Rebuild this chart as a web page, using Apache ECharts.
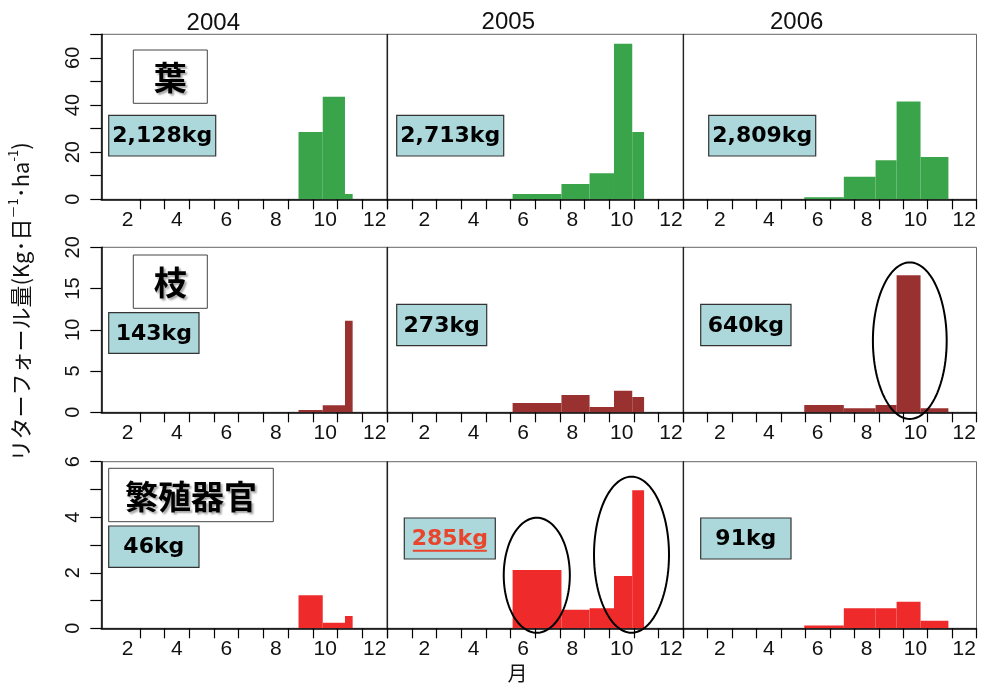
<!DOCTYPE html>
<html>
<head>
<meta charset="utf-8">
<script src="https://cdn.jsdelivr.net/npm/echarts@6/dist/echarts.min.js"></script>
<style>
  html, body { margin: 0; padding: 0; background: #fff; }
  #chart { width: 982px; height: 684px; }
</style>
</head>
<body>
<div id="chart"></div>
<script>
// Collection-period boundaries, in months counted from 1 January of each year
const periods2004 = [8.42, 9.40, 10.30, 10.61];
const periods2005 = [5.08, 7.06, 8.20, 9.19, 9.93, 10.41];
const periods2006 = [4.95, 6.57, 7.87, 8.73, 9.71, 10.85];

// Daily litterfall in each period (kg / day / ha)
const leaf2004 = [28.6, 43.5, 2.3];
const leaf2005 = [2.3, 6.5, 11.1, 66.0, 28.6];
const leaf2006 = [0.85, 9.6, 16.6, 41.5, 17.9];
const branch2004 = [0.28, 0.85, 11.1];
const branch2005 = [1.13, 2.1, 0.64, 2.62, 1.85];
const branch2006 = [0.88, 0.48, 0.88, 16.6, 0.48];
const repro2004 = [1.19, 0.2, 0.44];
const repro2005 = [2.1, 0.67, 0.72, 1.88, 4.97];
const repro2006 = [0.1, 0.72, 0.72, 0.96, 0.27];

const years = ['2004', '2005', '2006'];
const parts = ['葉', '枝', '繁殖器官'];
const annualTotals = [
  ['2,128kg', '2,713kg', '2,809kg'],
  ['143kg', '273kg', '640kg'],
  ['46kg', '285kg', '91kg']
];
const monthTickLabels = ['2', '4', '6', '8', '10', '12'];
const yMaxByPart = [70, 20, 6];
const yStepByPart = [10, 5, 1];
const yLabelStepByPart = [20, 5, 2];

const periods = [periods2004, periods2005, periods2006];
const values = [
  [leaf2004, leaf2005, leaf2006],
  [branch2004, branch2005, branch2006],
  [repro2004, repro2005, repro2006]
];

// ---- layout ----
const rowTop = [34.3, 247.3, 461.7];
const rowHeight = [165, 165, 166.6];
const colLeft = [101.3, 387.3, 683.3];
const colWidth = [285.7, 296, 293.2];
const colMin = [0.44, 0, 0];
const partColors = ['#3aa44a', '#9a3131', '#ee2a2a'];
const tickFont = 'Liberation Sans, Arial, sans-serif';
const jpFont = '"Noto Sans CJK JP", sans-serif';

// Ellipses around notable periods: [part, year, centre month, centre value, half-width (months), half-height (value)]
const highlights = [
  [1, 2, 9.27, 8.68, 1.51, 9.49],
  [2, 1, 6.06, 1.91, 1.34, 2.07],
  [2, 1, 9.90, 2.65, 1.52, 2.81]
];

const grids = [], xAxes = [], yAxes = [], series = [];
for (let r = 0; r < 3; r++) {
  for (let c = 0; c < 3; c++) {
    const idx = r * 3 + c;
    grids.push({
      left: colLeft[c], top: rowTop[r], width: colWidth[c], height: rowHeight[r],
      show: true, borderColor: '#666', borderWidth: 1, containLabel: false
    });
    const tickVals = [];
    for (let m = (c === 0 ? 2 : 0); m <= 12; m++) tickVals.push(m);
    xAxes.push({
      type: 'value', gridIndex: idx, min: colMin[c], max: 12,
      axisLine: { show: true, onZero: false, lineStyle: { color: '#000', width: 1.5 } },
      axisTick: { show: true, length: 10, customValues: tickVals, lineStyle: { color: '#000', width: 1.2 } },
      axisLabel: {
        show: true, margin: 10, color: '#111', fontSize: 21, fontFamily: tickFont,
        customValues: monthTickLabels.map(s => Number(s) - 0.5),
        formatter: v => String(Math.round(v + 0.5))
      },
      splitLine: { show: false }
    });
    const first = c === 0;
    yAxes.push({
      type: 'value', gridIndex: idx, min: 0, max: yMaxByPart[r], interval: yStepByPart[r],
      axisLine: { show: true, lineStyle: { color: first ? '#000' : '#222', width: first ? 1.5 : 1.2 } },
      axisTick: { show: first, length: 11, lineStyle: { color: '#000', width: 1.2 } },
      axisLabel: {
        show: first, rotate: 90, margin: 18, color: '#111', fontSize: 20, fontFamily: tickFont,
        formatter: v => (Math.round(v) % yLabelStepByPart[r] === 0 ? String(v) : '')
      },
      splitLine: { show: false }
    });
    const p = periods[c];
    series.push({
      type: 'custom', xAxisIndex: idx, yAxisIndex: idx, clip: true,
      itemStyle: { color: partColors[r] },
      encode: { x: [0, 1], y: 2 },
      data: values[r][c].map((v, i) => [p[i], p[i + 1], v]),
      renderItem: (params, api) => {
        const a = api.coord([api.value(0), api.value(2)]);
        const b = api.coord([api.value(1), 0]);
        return {
          type: 'rect',
          shape: { x: a[0], y: a[1], width: b[0] - a[0], height: b[1] - a[1] },
          style: { fill: api.visual('color') }
        };
      }
    });
  }
}

// ellipse outlines drawn through each panel's own scales
highlights.forEach(h => {
  const idx = h[0] * 3 + h[1];
  series.push({
    type: 'custom', xAxisIndex: idx, yAxisIndex: idx, clip: false, z: 5,
    data: [[h[2], h[3], h[4], h[5]]],
    renderItem: (params, api) => {
      const pts = [];
      for (let k = 0; k < 120; k++) {
        const t = (k / 120) * Math.PI * 2;
        pts.push(api.coord([api.value(0) + api.value(2) * Math.cos(t), api.value(1) + api.value(3) * Math.sin(t)]));
      }
      return { type: 'polygon', shape: { points: pts }, style: { fill: 'none', stroke: '#000', lineWidth: 2 } };
    }
  });
});

// annotation boxes
const nameBoxes = [
  [133.3, 50, 74, 53.3],
  [133.3, 255, 74, 53.3],
  [108.7, 468.3, 164.6, 53.4]
];
const totalBoxes = [
  [[108.7, 115.3, 107, 40.7], [396.7, 115.3, 107, 40.7], [708.7, 115.3, 107, 40.7]],
  [[108.7, 312.7, 90.3, 40.6], [396.7, 304.3, 90, 41.4], [700.7, 304.3, 90.3, 41.4]],
  [[108.7, 526, 90.3, 41.3], [404.3, 518, 91, 41], [700.7, 518, 90.3, 41]]
];
const yearTitlePos = [[213.3, 23], [508.3, 22], [796.7, 22]];

const graphic = [];
yearTitlePos.forEach((p, i) => {
  graphic.push({ type: 'text', x: p[0], y: p[1], z: 100,
    style: { text: years[i], font: '24px ' + tickFont, fill: '#111', align: 'center', verticalAlign: 'middle' } });
});
nameBoxes.forEach((b, r) => {
  graphic.push({ type: 'rect', z: 100, shape: { x: b[0], y: b[1], width: b[2], height: b[3] },
    style: { fill: '#fff', stroke: '#444', lineWidth: 1 } });
  graphic.push({ type: 'text', z: 101, x: b[0] + b[2] / 2, y: b[1] + b[3] / 2 + 1,
    style: { text: parts[r], font: 'bold 33px ' + jpFont, fill: '#000', align: 'center', verticalAlign: 'middle',
      textShadowColor: 'rgba(0,0,0,0.35)', textShadowOffsetX: 2, textShadowOffsetY: 2, textShadowBlur: 2 } });
});
totalBoxes.forEach((row, r) => row.forEach((b, c) => {
  const special = r === 2 && c === 1;
  graphic.push({ type: 'rect', z: 100, shape: { x: b[0], y: b[1], width: b[2], height: b[3] },
    style: { fill: '#acd8dc', stroke: '#333', lineWidth: 1.2 } });
  graphic.push({ type: 'text', z: 101, x: b[0] + b[2] / 2, y: b[1] + b[3] / 2 + 1,
    style: { text: annualTotals[r][c], font: 'bold 22px "DejaVu Sans", sans-serif',
      fill: special ? '#e8452c' : '#000', align: 'center', verticalAlign: 'middle' } });
  if (special) {
    graphic.push({ type: 'line', z: 101, shape: { x1: b[0] + 8.5, y1: 550.7, x2: b[0] + b[2] - 8.5, y2: 550.7 },
      style: { stroke: '#e8452c', lineWidth: 2 } });
  }
}));
// axis titles
graphic.push({ type: 'text', z: 100, x: 21, y: 302, rotation: Math.PI / 2,
  style: {
    text: '{a|リターフォール量(Kg･日}{s|－1}{a|･ha}{s|-1}{a|)}',
    align: 'center', verticalAlign: 'middle',
    rich: {
      a: { fontSize: 22, fontFamily: jpFont, fill: '#111', lineHeight: 28, verticalAlign: 'middle' },
      s: { fontSize: 13, fontFamily: jpFont, fill: '#111', lineHeight: 28, verticalAlign: 'top' }
    }
  } });
graphic.push({ type: 'text', z: 100, x: 517.5, y: 673,
  style: { text: '月', font: '20px ' + jpFont, fill: '#111', align: 'center', verticalAlign: 'middle' } });

const chart = echarts.init(document.getElementById('chart'), null, { renderer: 'canvas' });
chart.setOption({
  animation: false,
  backgroundColor: '#fff',
  grid: grids,
  xAxis: xAxes,
  yAxis: yAxes,
  series: series,
  graphic: graphic
});
</script>
</body>
</html>
